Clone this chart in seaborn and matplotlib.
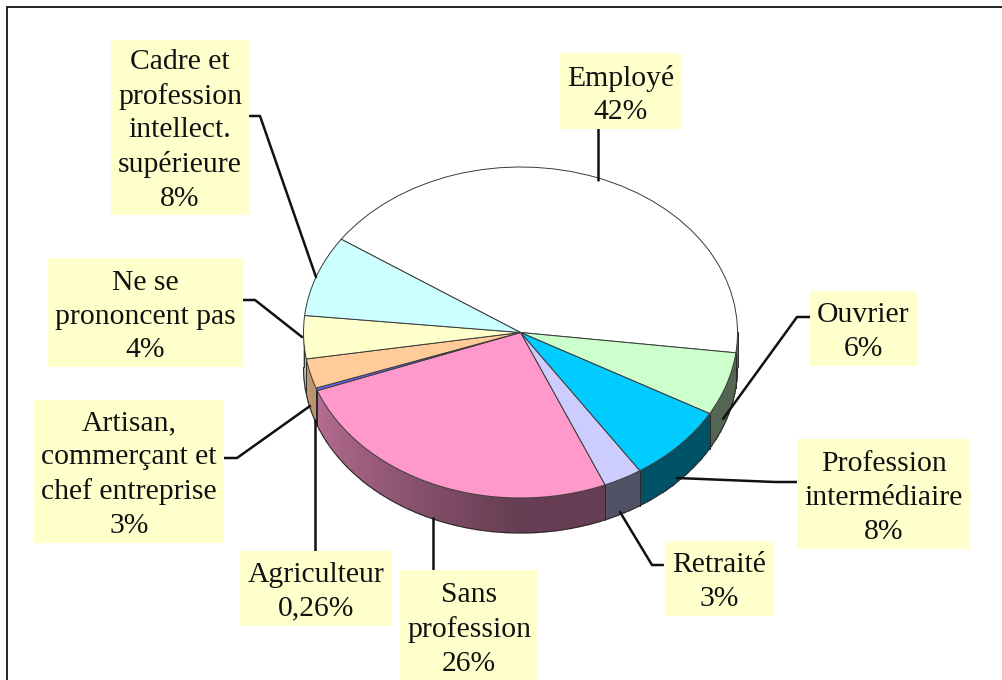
import numpy as np
import matplotlib
matplotlib.use('Agg')
import matplotlib.pyplot as plt
import seaborn as sns
from matplotlib.patches import Rectangle

sns.set_theme(style='white')
plt.rcParams['font.family'] = ['Liberation Serif', 'DejaVu Serif']

# --- data, clockwise from the top left edge of the white slice ---
categories = ['Employé', 'Ouvrier', 'Profession intermédiaire', 'Retraité', 'Sans profession',
              'Agriculteur', 'Artisan, commerçant et chef entreprise', 'Ne se prononcent pas',
              'Cadre et profession intellect. supérieure']
values = [42.5, 6.2, 7.6, 2.9, 25.7, 0.26, 2.9, 4.2, 7.9]
slice_colors = ['#FFFFFF', '#CCFFCC', '#00CCFF', '#CCCCFF', '#FF99CC',
                '#6666FF', '#FFCC99', '#FFFFCC', '#CCFFFF']
label_texts = ['Employé\n42%', 'Ouvrier\n6%', 'Profession\nintermédiaire\n8%', 'Retraité\n3%',
               'Sans\nprofession\n26%', 'Agriculteur\n0,26%', 'Artisan,\ncommerçant et\nchef entreprise\n3%',
               'Ne se\nprononcent pas\n4%', 'Cadre et\nprofession\nintellect.\nsupérieure\n8%']

# --- layout in reference pixels ---
W, H = 1003, 680
cx, cy, rx, ry = 520.5, 332.5, 217, 165.5
depth = 35 / ry
start_angle = 145.7
# x0, x1, y0, y1 of each label box
boxes = [(560, 682, 53, 129), (810, 917, 291, 366), (797, 970, 439, 549), (665, 774, 541, 616),
         (400, 538, 570, 681), (240, 392, 551, 626), (34, 224, 400, 543),
         (48, 243, 258, 367), (111, 249, 40, 215)]
text_y = [95, 332, 498, 582, 629.5, 592, 474.5, 316.5, 130.5]
leaders = [[(598, 129), (598, 180)],
           [(810, 317), (797, 317), (723, 419)],
           [(797, 482), (775, 482), (677, 478)],
           [(663, 565), (652, 565), (620, 512)],
           [(433, 518), (433, 570)],
           [(315, 420), (315, 551)],
           [(224, 458), (237, 458), (310, 406)],
           [(243, 300), (255, 300), (302, 337)],
           [(250, 116), (260, 116), (316, 277)]]

fig = plt.figure(figsize=(W / 100, H / 100), dpi=100, facecolor='white')

# the pie lives in its own axes, stretched so the unit circle becomes the tilted ellipse
ax_pie = fig.add_axes([(cx - 1.3 * rx) / W, 1 - (cy + 1.3 * ry) / H, 2.6 * rx / W, 2.6 * ry / H])
palette = sns.color_palette(slice_colors)
ax_pie.pie(values, colors=palette, startangle=start_angle, counterclock=False,
           wedgeprops=dict(edgecolor='#3a3a3a', linewidth=0.7, zorder=5))
ax_pie.set_aspect('auto')


def shade(t):
    # wall gets darker towards the front right, as in the old 3D office charts
    return 0.4 + 0.32 * np.clip((-90 - t) / 70, 0, 1.15)


# side wall from the same values
sweeps = np.array(values) / sum(values) * 360
ends = start_angle - np.cumsum(sweeps)
starts = ends + sweeps
for a0, a1, col in zip(starts, ends, palette):
    # visible part of the wall is the lower half of the ellipse
    for off in (0, -360):
        h, l = min(a0 + off, 0), max(a1 + off, -180)
        if h <= l:
            continue
        tt = np.linspace(l, h, max(int(h - l) * 2, 2) + 1)
        rad = np.radians(tt)
        X = np.vstack([np.cos(rad), np.cos(rad)])
        Y = np.vstack([np.sin(rad), np.sin(rad) - depth])
        mid = (tt[:-1] + tt[1:]) / 2
        C = np.array(col)[None, None, :] * shade(mid)[None, :, None]
        ax_pie.pcolormesh(X, Y, C, shading='flat', antialiased=True, edgecolors='face',
                          linewidth=0.3, zorder=1)
        for t in (l, h):
            if -180 < t < 0:
                r = np.radians(t)
                ax_pie.plot([np.cos(r)] * 2, [np.sin(r), np.sin(r) - depth], color='#2a2a2a',
                            lw=0.7, zorder=2)
t_edge = np.radians(np.linspace(-180, 0, 200))
ax_pie.plot(np.cos(t_edge), np.sin(t_edge) - depth, color='#2a2a2a', lw=0.8, zorder=2)
ax_pie.plot([-1, -1], [0, -depth], color='#2a2a2a', lw=0.7, zorder=2)
ax_pie.plot([1, 1], [0, -depth], color='#2a2a2a', lw=0.7, zorder=2)
ax_pie.set_xlim(-1.3, 1.3)
ax_pie.set_ylim(-1.3, 1.3)

# overlay in pixel coordinates for frame, leader lines and label boxes
ax = fig.add_axes([0, 0, 1, 1], facecolor='none')
ax.set_xlim(0, W)
ax.set_ylim(H, 0)
ax.axis('off')
ax.plot([7, 7, W], [H, 6.5, 6.5], color='#111111', lw=1.3, solid_joinstyle='miter')

for pts in leaders:
    xs, ys = zip(*pts)
    ax.plot(xs, ys, color='#111111', lw=1.8, solid_joinstyle='round', zorder=3)

for (x0, x1, y0, y1), txt, ty in zip(boxes, label_texts, text_y):
    ax.add_patch(Rectangle((x0, y0), x1 - x0, y1 - y0, facecolor='#FFFFCC', edgecolor='none', zorder=4))
    ax.text((x0 + x1) / 2, ty, txt, ha='center', va='center', fontsize=21.3, color='#111111',
            linespacing=1.38, zorder=5)

fig.savefig('out.png', dpi=100)
